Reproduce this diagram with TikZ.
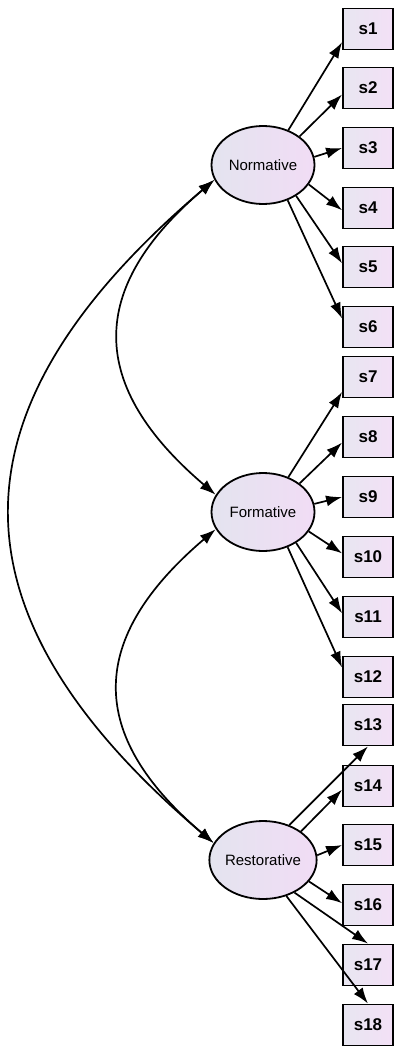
\documentclass[tikz,border=0pt]{standalone}
\usepackage{fontspec}
\setmainfont{Liberation Sans}
\usetikzlibrary{shapes.geometric,arrows.meta}
\definecolor{lilagrigio}{RGB}{228,228,239}
\definecolor{lilarosa}{RGB}{241,220,245}
\definecolor{boxgrigio}{RGB}{232,230,241}
\definecolor{boxrosa}{RGB}{243,224,246}
\tikzset{
  latent/.style={ellipse, draw, line width=1.8pt, minimum width=103pt, minimum height=78pt,
    inner sep=0pt, left color=lilagrigio, right color=lilarosa, font=\fontsize{15}{17}\selectfont},
  item/.style={rectangle, draw, line width=1.8pt, minimum width=50pt, minimum height=41pt,
    inner sep=0pt, left color=boxgrigio, right color=boxrosa, font=\bfseries\fontsize{17}{19}\selectfont},
  load/.style={-{Latex[length=16pt,width=11pt]}, line width=1.7pt},
  cov/.style={{Latex[length=16pt,width=11pt]}-{Latex[length=16pt,width=11pt]}, line width=1.7pt}
}
\begin{document}
\begin{tikzpicture}[x=1pt, y=-1pt]
  \useasboundingbox (0,0) rectangle (402,1054);
  % Fattori latenti
  \node[latent] (norm) at (263,165) {Normative};
  \node[latent] (form) at (263,512) {Formative};
  \node[latent] (rest) at (263,860) {Restorative};
  % Indicatori
  \foreach \i/\y in {1/29, 2/88, 3/148, 4/208, 5/267, 6/327,
                     7/377, 8/437, 9/497, 10/557, 11/617, 12/677,
                     13/725, 14/786, 15/845, 16/905, 17/965, 18/1025}
    \node[item] (s\i) at (368,\y) {s\i};
  % Saturazioni
  \foreach \i/\a/\b in {1/54/207, 2/38/194, 3/9/180, 4/337/185, 5/317/172, 6/305/162}
    \draw[load] (norm.\a) -- (s\i.\b);
  \foreach \i/\a/\b in {7/54/210, 8/38/192, 9/9/180, 10/337/172, 11/317/172, 12/305/160}
    \draw[load] (form.\a) -- (s\i.\b);
  \foreach \i/\a/\b in {13/53/south, 14/37/188, 15/5/180, 16/335/176, 17/314/north, 18/303/north}
    \draw[load] (rest.\a) -- (s\i.\b);
  % Covarianze
  \draw[cov] (norm.197) .. controls +(-128,109) and +(-128,-109) .. (form.160);
  \draw[cov] (form.200) .. controls +(-128,109) and +(-128,-109) .. (rest.161);
  \draw[cov] (norm.197) .. controls +(-271,230) and +(-271,-230) .. (rest.161);
\end{tikzpicture}
\end{document}
